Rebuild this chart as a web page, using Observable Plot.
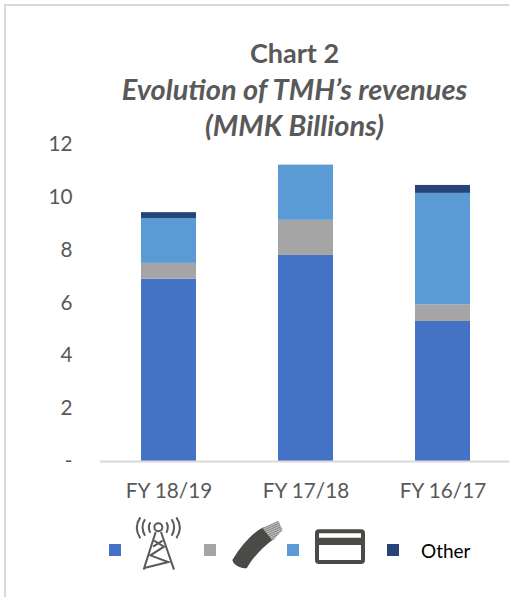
<!DOCTYPE html>
<html>
<head>
<meta charset="utf-8">
<script src="https://cdn.jsdelivr.net/npm/d3@7"></script>
<script src="https://cdn.jsdelivr.net/npm/@observablehq/plot@0.6"></script>
<style>
html,body{margin:0;padding:0;background:#fff;}
#page{position:relative;width:509px;height:597px;overflow:hidden;font-family:Lato,sans-serif;}
#frame{position:absolute;left:4px;top:4px;width:520px;height:620px;border:2px solid #d9d9d9;box-sizing:border-box;}
#title{position:absolute;left:40px;width:509px;top:35px;text-align:center;color:#595959;font-size:27px;line-height:36px;font-weight:700;}
#title i{display:block;font-size:29px;}
#chart{position:absolute;left:0;top:128px;}
#chart svg{display:block;background:transparent;}
.sw{position:absolute;top:544px;width:12px;height:12px;}
#other{position:absolute;left:421px;top:539px;font-size:19px;line-height:23px;color:#000;}
#icons{position:absolute;left:90px;top:500px;}
</style>
</head>
<body>
<div id="page">
  <div id="frame"></div>
  <div id="title">Chart 2<i>Evolution of TMH’s revenues</i><i>(MMK Billions)</i></div>
  <div id="chart"></div>
  <div id="legend"></div>
  <svg id="icons" width="400" height="90" viewBox="0 0 1200 270">
    <defs>
      <pattern id="strand" width="6" height="6" patternUnits="userSpaceOnUse" patternTransform="rotate(-25)">
        <rect width="6" height="6" fill="#c4c4c2"/>
        <path d="M0 0H6M0 3H6" stroke="#6f6f6b" stroke-width="1.5"/>
      </pattern>
    </defs>
    <g fill="none" stroke="#595959" stroke-width="6">
      <circle cx="205" cy="82" r="12"/>
      <path d="M197 96L161 209M213 96L252 209"/>
      <path d="M192 122L222 140L181 166L235 186L163 204M218 122L189 140"/>
      <path d="M181 67Q172 82 181 98M229 67Q238 82 229 98M165 58Q150 82 165 107M245 58Q260 82 245 107M151 52Q130 82 151 115M259 52Q280 82 259 115"/>
    </g>
    <path d="M427 180C455 135 485 100 520 82L552 116C520 140 490 170 470 205C450 205 430 195 427 180Z" fill="#4a4a46"/>
    <path d="M517 84L565 62L578 90L548 122Z" fill="url(#strand)"/>
    <path fill-rule="evenodd" fill="#4a4a46" d="M687 88H813Q825 88 825 100V180Q825 192 813 192H687Q675 192 675 180V100Q675 88 687 88ZM687 100V113H813V100ZM687 135V180H813V135Z"/>
  </svg>
  <div id="other">Other</div>
</div>
<script>
const years = ["FY 18/19", "FY 17/18", "FY 16/17"];
const seriesNames = ["Telecom", "Cable", "Card", "Other"];
const colors = ["#4472c4", "#a5a5a5", "#5b9bd5", "#264478"];
const telecom = [6.9, 7.8, 5.3];
const cable = [0.6, 1.33, 0.63];
const card = [1.7, 2.09, 4.22];
const other = [0.22, 0, 0.3];
const yTicks = [0, 2, 4, 6, 8, 10, 12];
const swatchLeft = [109, 204, 287, 387];

const rows = [telecom, cable, card, other].flatMap((values, s) =>
  values.map((value, i) => ({year: years[i], series: seriesNames[s], value})));

const chart = Plot.plot({
  width: 509,
  height: 373,
  marginTop: 16,
  marginBottom: 40,
  marginLeft: 100,
  marginRight: -2,
  style: {background: "transparent", overflow: "visible"},
  x: {domain: years, paddingInner: 0.6, paddingOuter: 0.3, label: null},
  y: {domain: [0, 12], ticks: yTicks, label: null},
  color: {domain: seriesNames, range: colors},
  marks: [
    Plot.barY(rows, {x: "year", y: "value", fill: "series", order: seriesNames}),
    Plot.ruleY([0], {stroke: "#d9d9d9", strokeWidth: 2}),
    Plot.axisX({tickSize: 0, tickPadding: 22, fontSize: 20.7, fontFamily: "Lato, sans-serif", color: "#595959", label: null}),
    Plot.axisY({ticks: yTicks, tickSize: 0, tickPadding: 28, fontSize: 20.7, fontFamily: "Lato, sans-serif", color: "#595959", label: null,
      tickFormat: d => d === 0 ? "-" : String(d)})
  ]
});
document.getElementById("chart").appendChild(chart);

const legend = document.getElementById("legend");
seriesNames.forEach((name, i) => {
  const s = document.createElement("div");
  s.className = "sw";
  s.title = name;
  s.style.left = swatchLeft[i] + "px";
  s.style.background = colors[i];
  legend.appendChild(s);
});
</script>
</body>
</html>
